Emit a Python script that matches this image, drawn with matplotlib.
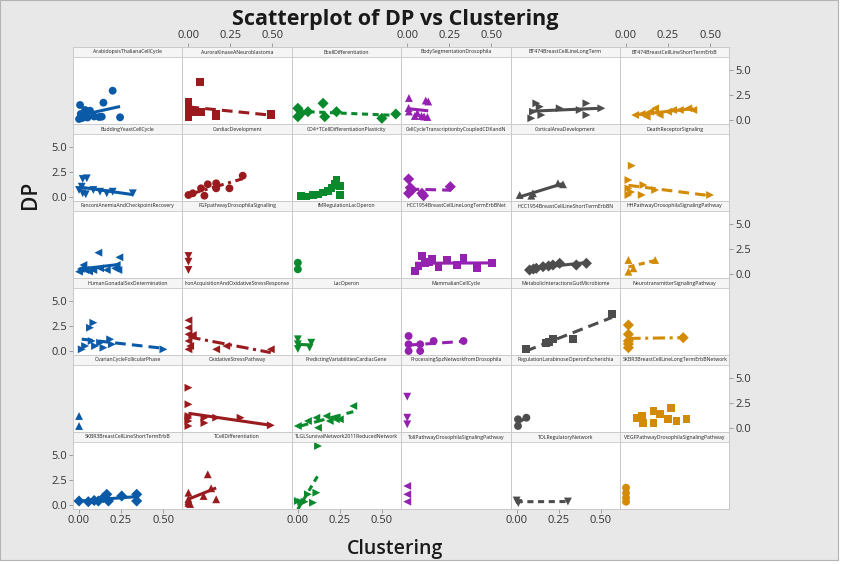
import matplotlib
matplotlib.use("Agg")
import matplotlib.pyplot as plt
from matplotlib.patches import Rectangle
import numpy as np

plt.rcParams['font.family'] = ['Open Sans', 'DejaVu Sans']

# --- DATA: one entry per network panel ---
NETWORKS = [
    "ArabidopsisThalianaCellCycle", "AuroraKinaseANeuroblastoma", "BcellDifferentiation",
    "BodySegmentationDrosophila", "BT474BreastCellLineLongTerm", "BT474BreastCellLineShortTermErbB",
    "BuddingYeastCellCycle", "CardiacDevelopment", "CD4+TCellDifferentiationPlasticity",
    "CellCycleTranscriptionbyCoupledCDKandN", "CorticalAreaDevelopment", "DeathReceptorSignaling",
    "FanconiAnemiaAndCheckpointRecovery", "FGFpathwayDrosophilaSignalling", "fMRegulationLacOperon",
    "HCC1954BreastCellLineLongTermErbBNet", "HCC1954BreastCellLineShortTermErbBN", "HHPathwayDrosophilaSignalingPathway",
    "HumanGonadalSexDetermination", "IronAcquisitionAndOxidativeStressResponse", "LacOperon",
    "MammalianCellCycle", "MetabolicInteractionsGutMicrobiome", "NeurotransmitterSignalingPathway",
    "OvarianCycleFollicularPhase", "OxidativeStressPathway", "PredictingVariabilitiesCardiacGene",
    "ProcessingSpzNetworkfromDrosophila", "RegulationLarabinoseOperonEscherichia", "SKBR3BreastCellLineLongTermErbBNetwork",
    "SKBR3BreastCellLineShortTermErbB", "TCellDifferentiation", "TLGLSurvivalNetwork2011ReducedNetwork",
    "TollPathwayDrosophilaSignalingPathway", "TOLRegulatoryNetwork", "VEGFPathwayDrosophilaSignalingPathway",
]

CLUSTERING = [
    [0.20, 0.145, 0.006, 0.036, 0.010, 0.022, 0.135, 0.244, 0.065, 0.000, 0.015, 0.030, 0.050, 0.090, 0.120],
    [0.07, 0.0, 0.0, 0.0, 0.036, 0.075, 0.165, 0.165, 0.49, 0.49],
    [0.0, 0.0, 0.06, 0.15, 0.16, 0.23, 0.50, 0.583, 0.02],
    [0.01, 0.11, 0.125, 0.008, 0.01, 0.045, 0.085, 0.06, 0.10, 0.12],
    [0.087, 0.097, 0.117, 0.137, 0.147, 0.256, 0.375, 0.415, 0.415, 0.504],
    [0.054, 0.093, 0.123, 0.143, 0.173, 0.20, 0.25, 0.28, 0.32, 0.37, 0.40],
    [0.022, 0.046, 0.016, 0.022, 0.0, 0.04, 0.085, 0.125, 0.165, 0.20, 0.32],
    [0.0, 0.026, 0.075, 0.095, 0.115, 0.165, 0.165, 0.244, 0.323],
    [0.02, 0.05, 0.09, 0.12, 0.15, 0.18, 0.20, 0.22, 0.23, 0.25, 0.25],
    [0.008, 0.018, 0.008, 0.028, 0.087, 0.097, 0.256],
    [0.018, 0.097, 0.087, 0.246, 0.276],
    [0.034, 0.014, 0.014, 0.014, 0.103, 0.093, 0.173, 0.50, 0.03],
    [0.115, 0.24, 0.026, 0.0, 0.036, 0.085, 0.125, 0.165, 0.214, 0.234, 0.224, 0.01, 0.06],
    [0.0, 0.0, 0.0],
    [0.0, 0.0],
    [0.087, 0.048, 0.067, 0.107, 0.147, 0.186, 0.236, 0.296, 0.335, 0.415, 0.504, 0.127],
    [0.077, 0.117, 0.157, 0.216, 0.256, 0.355, 0.415, 0.10, 0.19],
    [0.014, 0.014, 0.173, 0.044],
    [0.085, 0.065, 0.016, 0.036, 0.075, 0.095, 0.125, 0.145, 0.185, 0.195, 0.502],
    [0.0, 0.0, 0.0, 0.026, 0.0, 0.165, 0.225, 0.49, 0.0, 0.01],
    [0.0, 0.0, 0.08, 0.07, 0.0],
    [0.008, 0.008, 0.008, 0.077, 0.077, 0.157, 0.335],
    [0.054, 0.177, 0.216, 0.335, 0.567, 0.19],
    [0.014, 0.014, 0.014, 0.014, 0.34, 0.014],
    [0.0, 0.0],
    [0.0, 0.0, 0.0, 0.0, 0.0, 0.0, 0.095, 0.095, 0.165, 0.31, 0.49],
    [0.0, 0.06, 0.11, 0.12, 0.17, 0.19, 0.226, 0.25, 0.33],
    [0.0, 0.0, 0.0],
    [0.008, 0.008, 0.058],
    [0.064, 0.093, 0.103, 0.163, 0.163, 0.20, 0.25, 0.27, 0.30, 0.36],
    [0.0, 0.055, 0.115, 0.145, 0.165, 0.175, 0.254, 0.343, 0.343, 0.09],
    [0.0, 0.0, 0.0, 0.0, 0.115, 0.135, 0.09, 0.165, 0.01],
    [0.12, 0.0, 0.04, 0.09, 0.11, 0.06, 0.02],
    [0.0, 0.0, 0.0],
    [0.0, 0.01, 0.305],
    [0.0, 0.0, 0.0, 0.0],
]

DP = [
    [2.93, 1.73, 1.50, 1.00, 0.60, 0.23, 0.33, 0.27, 0.93, 0.10, 0.20, 0.30, 0.25, 0.35, 0.30],
    [3.83, 1.83, 1.0, 0.27, 0.83, 0.83, 0.6, 0.35, 0.6, 0.45],
    [1.17, 0.33, 0.83, 1.67, 0.33, 0.83, 0.17, 0.6, 0.7],
    [2.2, 1.95, 1.85, 1.2, 0.85, 0.4, 0.4, 0.7, 0.35, 0.3],
    [0.17, 0.83, 1.67, 1.33, 0.5, 1.17, 1.0, 1.67, 0.5, 1.17],
    [0.5, 0.6, 0.33, 0.83, 1.17, 0.5, 0.83, 1.0, 1.0, 1.17, 1.0],
    [1.8, 1.87, 1.03, 0.37, 0.7, 0.27, 0.7, 0.53, 0.37, 0.53, 0.37],
    [0.2, 0.37, 0.87, 0.13, 1.27, 1.37, 0.87, 0.87, 2.13],
    [0.1, 0.05, 0.2, 0.25, 0.45, 0.6, 0.9, 1.3, 1.7, 1.1, 0.2],
    [1.8, 0.93, 0.37, 0.7, 0.37, 0.13, 1.03],
    [0.2, 0.37, 0.13, 1.37, 1.27],
    [3.13, 1.7, 0.87, 0.2, 1.2, 0.2, 0.7, 0.2, 0.5],
    [2.13, 1.67, 0.9, 0.23, 0.4, 0.4, 0.57, 0.4, 0.57, 0.4, 0.9, 0.5, 0.25],
    [1.8, 1.23, 0.4],
    [1.13, 0.47],
    [1.8, 0.33, 0.8, 1.07, 1.47, 0.73, 1.4, 0.9, 1.63, 0.57, 1.13, 1.2],
    [0.4, 0.57, 0.73, 0.9, 1.07, 0.9, 1.07, 0.5, 0.8],
    [1.4, 0.23, 1.4, 0.57],
    [2.83, 2.33, 0.17, 0.5, 1.0, 0.5, 0.83, 0.33, 1.17, 0.67, 0.17],
    [3.07, 2.33, 1.67, 1.6, 0.17, 0.17, 0.5, 0.17, 1.0, 0.5],
    [1.17, 0.67, 0.83, 0.33, 0.2],
    [1.5, 0.67, 0.0, 0.67, 0.0, 1.0, 1.0],
    [0.17, 0.83, 1.17, 1.17, 3.67, 0.9],
    [2.6, 1.67, 1.0, 0.33, 1.33, 0.7],
    [1.2, 0.2],
    [4.03, 2.37, 1.2, 1.0, 0.7, 0.2, 1.03, 0.5, 1.03, 1.03, 0.27],
    [0.2, 0.7, 1.03, 0.03, 1.2, 0.7, 0.87, 0.87, 2.2],
    [3.13, 1.03, 0.37],
    [0.87, 0.2, 1.03],
    [1.03, 1.2, 0.53, 1.7, 0.53, 1.37, 0.87, 2.03, 0.7, 0.93],
    [0.4, 0.33, 0.4, 0.73, 1.07, 0.4, 0.9, 1.07, 0.4, 0.45],
    [1.23, 0.4, 0.2, 0.6, 3.07, 1.67, 0.9, 0.57, 0.1],
    [5.9, 0.4, 0.33, 0.23, 1.23, 1.07, 0.3],
    [1.9, 1.07, 0.33],
    [0.45, 0.2, 0.35],
    [1.73, 1.2, 0.73, 0.33],
]

# fit line type per panel (None = no line drawn)
LINE_TYPES = [
    "solid", "dash", "short", "solid", "solid", "solid",
    "solid", "dashdot", "solid", "dash", "solid", "dash",
    "solid", None, None, "solid", "solid", "short",
    "dash", "dashdot", "solid", "dash", "dash", "dashdot",
    None, "solid", "dash", None, "solid", None,
    "solid", "solid", "short", None, "short", None,
]

# --- STYLE ---
COLORS = ["#0b5aa8", "#9a1b1e", "#0b8a2d", "#9421b0", "#4d4d4d", "#d38a06"]
MARKERS = ["o", "s", "D", "^", ">", "<", "v"]
DASHES = {
    "solid": "-",
    "dash": (0, (3.5, 2)),
    "short": (0, (2, 1.5)),
    "dashdot": (0, (4, 1.5, 1, 1.5)),
}

W, H = 848, 564
GRID_LEFT, GRID_TOP = 73, 47
CELL_W, CELL_H = 109.4, 77
STRIP_H = 10
XLIM = (-0.036, 0.615)
YLIM = (-0.4, -0.4 + CELL_H / 10.0)   # top 10 px of each cell hold the strip
NCOLS = 6

fig = plt.figure(figsize=(W / 100, H / 100), dpi=100)
fig.patch.set_facecolor("white")
bg = Rectangle((0, 4 / H), 838 / W, 560 / H, transform=fig.transFigure,
               facecolor="#e8e8e8", edgecolor="#b4b4b4", lw=0.8, zorder=-10)
fig.patches.append(bg)

for i, name in enumerate(NETWORKS):
    r, c = divmod(i, NCOLS)
    ax = fig.add_axes([(GRID_LEFT + c * CELL_W) / W,
                       1 - (GRID_TOP + (r + 1) * CELL_H) / H,
                       CELL_W / W, CELL_H / H])
    ax.set_facecolor("white")
    ax.set_xlim(*XLIM)
    ax.set_ylim(*YLIM)
    for sp in ax.spines.values():
        sp.set_color("#c8c8c8")
        sp.set_linewidth(0.7)

    # panel header strip
    frac = STRIP_H / CELL_H
    ax.add_patch(Rectangle((0, 1 - frac), 1, frac, transform=ax.transAxes,
                           facecolor="#f5f5f5", edgecolor="#c8c8c8", lw=0.6, zorder=5))
    ax.text(0.5, 1 - frac / 2, name, transform=ax.transAxes, ha="center", va="center",
            fontsize=3.7, color="#222222", zorder=6, clip_on=True)

    x = np.array(CLUSTERING[i])
    y = np.array(DP[i])
    col = COLORS[c]
    ax.scatter(x, y, marker=MARKERS[i % 7], s=32, color=col, edgecolors="none", zorder=3)

    lt = LINE_TYPES[i]
    if lt is not None and np.ptp(x) > 0:
        slope, icpt = np.polyfit(x, y, 1)
        xs = np.array([x.min(), x.max()])
        ax.plot(xs, slope * xs + icpt, color=col, lw=2.2, ls=DASHES[lt],
                solid_capstyle="butt", dash_capstyle="butt", zorder=4)

    # ticks only on the outer edges, alternating sides
    show_bottom = (r == 5 and c % 2 == 0)
    show_top = (r == 0 and c % 2 == 1)
    show_left = (c == 0 and r % 2 == 1)
    show_right = (c == NCOLS - 1 and r % 2 == 0)
    ax.set_xticks([0.0, 0.25, 0.5])
    ax.set_xticklabels(["0.00", "0.25", "0.50"])
    ax.set_yticks([0.0, 2.5, 5.0])
    ax.set_yticklabels(["0.0", "2.5", "5.0"])
    ax.tick_params(bottom=show_bottom, labelbottom=show_bottom,
                   top=show_top, labeltop=show_top,
                   left=show_left, labelleft=show_left,
                   right=show_right, labelright=show_right,
                   length=3, width=0.6, color="#909090", labelsize=8,
                   labelcolor="#333333", pad=1.5)

fig.text(395 / W, 1 - 19 / H, "Scatterplot of DP vs Clustering", ha="center", va="center",
         fontsize=15.5, fontweight="bold", color="#1a1a1a")
fig.text(30 / W, 1 - 195 / H, "DP", ha="center", va="center", rotation=90,
         fontsize=15, fontweight="semibold", color="#1a1a1a")
fig.text(395 / W, 1 - 549 / H, "Clustering", ha="center", va="center",
         fontsize=14, fontweight="semibold", color="#1a1a1a")

fig.savefig("out.png", dpi=100, facecolor=fig.get_facecolor())
